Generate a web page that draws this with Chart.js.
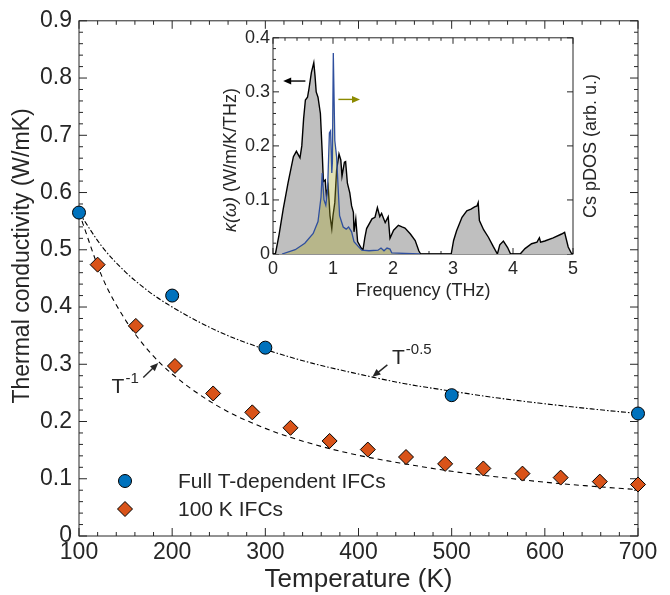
<!DOCTYPE html>
<html>
<head>
<meta charset="utf-8">
<script src="https://cdn.jsdelivr.net/npm/chart.js@4.4.1/dist/chart.umd.min.js"></script>
<style>
  html, body { margin: 0; padding: 0; background: #fff; }
  #main { position: absolute; left: 0; top: 0; width: 670px; height: 595px; }
  #inset { position: absolute; left: 215px; top: 24px; width: 395px; height: 288px; }
</style>
</head>
<body>
<div id="main"><canvas id="chart-main"></canvas></div>
<div id="inset"><canvas id="chart-inset"></canvas></div>
<script>
// main panel: thermal conductivity vs temperature
const fullT = [100, 200, 300, 500, 700];
const fullKappa = [0.565, 0.42, 0.329, 0.246, 0.214];

const ifcT = [120, 161, 203, 244, 286, 327, 369, 410, 451, 493, 534, 576, 617, 659, 700];
const ifcKappa = [0.474, 0.367, 0.297, 0.249, 0.216, 0.189, 0.166, 0.151, 0.138, 0.126, 0.118, 0.109, 0.102, 0.095, 0.09];

// guide curves
const fitT = [100, 125, 150, 175, 200, 250, 300, 350, 400, 450, 500, 550, 600, 650, 700];
const fitHalf = [0.565, 0.505, 0.461, 0.427, 0.4, 0.357, 0.326, 0.302, 0.283, 0.266, 0.253, 0.241, 0.231, 0.222, 0.214];
const fitOne = [0.565, 0.452, 0.377, 0.323, 0.283, 0.226, 0.188, 0.161, 0.141, 0.126, 0.113, 0.103, 0.094, 0.087, 0.081];

const xTicks = [100, 200, 300, 400, 500, 600, 700];
const yTicks = [0, 0.1, 0.2, 0.3, 0.4, 0.5, 0.6, 0.7, 0.8, 0.9];
const yTickLabels = ['0', '0.1', '0.2', '0.3', '0.4', '0.5', '0.6', '0.7', '0.8', '0.9'];

// inset: spectral kappa and Cs pDOS
const kappaFreq = [0, 0.04, 0.1, 0.17, 0.25, 0.34, 0.39, 0.45, 0.48, 0.51, 0.54, 0.575, 0.6, 0.64, 0.68, 0.7, 0.72, 0.75, 0.79, 0.82,
    0.84, 0.87, 0.89, 0.92, 0.95, 0.98, 1.0, 1.03, 1.06, 1.1, 1.13, 1.15, 1.19, 1.21, 1.24, 1.28, 1.31, 1.34, 1.35, 1.38,
    1.41, 1.47, 1.5, 1.53, 1.56, 1.65, 1.7, 1.74, 1.78, 1.81, 1.87, 1.92, 1.95, 2.01, 2.09, 2.15, 2.2, 2.29, 2.37, 2.43,
    2.46, 2.97, 3.01, 3.06, 3.15, 3.23, 3.3, 3.36, 3.4, 3.42, 3.44, 3.51, 3.59, 3.67, 3.74, 3.78, 3.84, 3.91, 3.96, 4.12,
    4.2, 4.31, 4.4, 4.44, 4.46, 4.53, 4.67, 4.81, 4.86, 4.92, 4.98, 5];
const kappaVal = [0, 0, 0.035, 0.083, 0.131, 0.18, 0.19, 0.178, 0.2, 0.25, 0.285, 0.29, 0.306, 0.336, 0.354, 0.33, 0.3, 0.29, 0.26, 0.188,
    0.134, 0.137, 0.108, 0.125, 0.071, 0.047, 0.071, 0.095, 0.155, 0.185, 0.174, 0.144, 0.17, 0.171, 0.131, 0.113, 0.089, 0.077, 0.041, 0.065,
    0.023, 0.011, 0.008, 0.03, 0.047, 0.065, 0.068, 0.086, 0.069, 0.075, 0.058, 0.069, 0.029, 0.044, 0.053, 0.05, 0.048, 0.037, 0.025, 0.006,
    0, 0, 0.025, 0.043, 0.068, 0.08, 0.083, 0.087, 0.089, 0.095, 0.062, 0.045, 0.031, 0.014, 0, 0.017, 0.024, 0.012, 0, 0,
    0.01, 0.019, 0.022, 0.03, 0.022, 0.024, 0.03, 0.037, 0.04, 0.013, 0, 0];

const pdosFreq = [0.15, 0.37, 0.53, 0.67, 0.75, 0.8, 0.82, 0.85, 0.88, 0.91, 0.94, 0.96, 0.98, 0.99, 1.005, 1.03, 1.06, 1.09, 1.11, 1.17,
    1.22, 1.26, 1.31, 1.35, 1.42, 1.48, 1.6, 1.75, 1.8, 1.85, 1.9, 1.95, 1.98, 2.2, 2.45];
const pdosVal = [0, 0.008, 0.02, 0.038, 0.06, 0.105, 0.15, 0.1, 0.09, 0.12, 0.224, 0.228, 0.15, 0.17, 0.372, 0.21, 0.18, 0.113, 0.071, 0.05,
    0.046, 0.05, 0.041, 0.023, 0.014, 0.007, 0.006, 0.007, 0.011, 0.006, 0.011, 0.009, 0.002, 0.001, 0];

const fTicks = [0, 1, 2, 3, 4, 5];
const kTicks = [0, 0.1, 0.2, 0.3, 0.4];
const kTickLabels = ['0', '0.1', '0.2', '0.3', '0.4'];

const ink = '#262626';
const font = '"Liberation Sans", Arial, Helvetica, sans-serif';
const blue = '#0072BD';
const orange = '#D95319';

Chart.defaults.font.family = font;
Chart.defaults.color = ink;
Chart.defaults.animation = false;

const pts = (xs, ys) => xs.map((x, i) => ({ x, y: ys[i] }));
const fixTicks = (vals) => (s) => { s.ticks = vals.map((v) => ({ value: v })); };

function steps(min, max, step) {
    const out = [];
    const n = Math.round((max - min) / step);
    for (let i = 0; i <= n; i++) out.push(min + i * step);
    return out;
}

// box with inward ticks on all four sides
const frame = {
    id: 'frame',
    beforeDatasetsDraw(chart, args, o) {
        const { ctx, chartArea: a } = chart;
        const xs = chart.scales.x;
        const ys = chart.scales.y;
        ctx.save();
        ctx.strokeStyle = ink;
        ctx.lineWidth = 1;
        ctx.strokeRect(a.left, a.top, a.right - a.left, a.bottom - a.top);
        ctx.beginPath();
        steps(xs.min, xs.max, o.xMinor).forEach((v, i) => {
            const len = i % 5 === 0 ? o.major : o.minor;
            const p = xs.getPixelForValue(v);
            ctx.moveTo(p, a.bottom); ctx.lineTo(p, a.bottom - len);
            ctx.moveTo(p, a.top); ctx.lineTo(p, a.top + len);
        });
        steps(ys.min, ys.max, o.yMinor).forEach((v, i) => {
            const major = i % 5 === 0;
            const len = major ? o.major : o.minor;
            const p = ys.getPixelForValue(v);
            ctx.moveTo(a.left, p); ctx.lineTo(a.left + len, p);
            if (major || o.rightMinor) { ctx.moveTo(a.right, p); ctx.lineTo(a.right - len, p); }
        });
        ctx.stroke();
        ctx.restore();
    },
};

function arrow(ctx, x1, y1, x2, y2, color) {
    const ang = Math.atan2(y2 - y1, x2 - x1);
    const hl = 8, hw = 3.5;
    ctx.save();
    ctx.strokeStyle = color;
    ctx.fillStyle = color;
    ctx.lineWidth = 1.4;
    ctx.beginPath();
    ctx.moveTo(x1, y1);
    ctx.lineTo(x2 - Math.cos(ang) * hl * 0.8, y2 - Math.sin(ang) * hl * 0.8);
    ctx.stroke();
    ctx.beginPath();
    ctx.moveTo(x2, y2);
    ctx.lineTo(x2 - hl * Math.cos(ang) + hw * Math.sin(ang), y2 - hl * Math.sin(ang) - hw * Math.cos(ang));
    ctx.lineTo(x2 - hl * Math.cos(ang) - hw * Math.sin(ang), y2 - hl * Math.sin(ang) + hw * Math.cos(ang));
    ctx.closePath();
    ctx.fill();
    ctx.restore();
}

function powerLabel(ctx, x, y, base, sup) {
    ctx.save();
    ctx.fillStyle = ink;
    ctx.textBaseline = 'alphabetic';
    ctx.font = '21px ' + font;
    ctx.fillText(base, x, y);
    const w = ctx.measureText(base).width;
    ctx.font = '15px ' + font;
    ctx.fillText(sup, x + w + 1, y - 10);
    ctx.restore();
}

// rotated text made of pieces in different fonts, centred on (cx, cy)
function sideText(ctx, cx, cy, parts) {
    ctx.save();
    ctx.fillStyle = ink;
    ctx.textBaseline = 'middle';
    ctx.translate(cx, cy);
    ctx.rotate(-Math.PI / 2);
    let total = 0;
    parts.forEach((p) => { ctx.font = p.font; total += ctx.measureText(p.text).width; });
    let x = -total / 2;
    parts.forEach((p) => {
        ctx.font = p.font;
        ctx.fillText(p.text, x, 0);
        x += ctx.measureText(p.text).width;
    });
    ctx.restore();
}

const notes = {
    id: 'notes',
    afterDatasetsDraw(chart) {
        const { ctx } = chart;
        const xs = chart.scales.x;
        const ys = chart.scales.y;
        const X = (v) => xs.getPixelForValue(v);
        const Y = (v) => ys.getPixelForValue(v);

        sideText(ctx, 23, 256, [{ text: 'Thermal conductivity (W/mK)', font: '23px ' + font }]);

        powerLabel(ctx, X(436), Y(0.3), 'T', '-0.5');
        arrow(ctx, X(431), Y(0.299), X(415), Y(0.278), ink);
        powerLabel(ctx, X(135), Y(0.25), 'T', '-1');
        arrow(ctx, X(169), Y(0.277), X(185), Y(0.302), ink);

        // legend
        const items = [
            { style: 'circle', r: 6.5, color: blue, text: 'Full T-dependent IFCs', y: 481 },
            { style: 'rectRot', r: 7.5, color: orange, text: '100 K IFCs', y: 509 },
        ];
        ctx.save();
        ctx.font = '21px ' + font;
        ctx.textBaseline = 'middle';
        items.forEach((it) => {
            ctx.fillStyle = it.color;
            ctx.strokeStyle = '#000';
            ctx.lineWidth = 1;
            Chart.helpers.drawPoint(ctx, { pointStyle: it.style, radius: it.r, rotation: 0, borderWidth: 1 }, 125, it.y);
            ctx.fillStyle = ink;
            ctx.fillText(it.text, 178, it.y + 1);
        });
        ctx.restore();
    },
};

new Chart(document.getElementById('chart-main'), {
    type: 'scatter',
    data: {
        datasets: [
            {
                label: 'Full T-dependent IFCs',
                data: pts(fullT, fullKappa),
                pointStyle: 'circle',
                pointRadius: 6.5,
                backgroundColor: blue,
                borderColor: '#000',
                borderWidth: 1,
                clip: false,
                order: 1,
            },
            {
                label: '100 K IFCs',
                data: pts(ifcT, ifcKappa),
                pointStyle: 'rectRot',
                pointRadius: 7.5,
                backgroundColor: orange,
                borderColor: '#000',
                borderWidth: 1,
                clip: false,
                order: 1,
            },
            {
                label: 'T^-0.5',
                data: pts(fitT, fitHalf),
                showLine: true,
                pointRadius: 0,
                borderColor: '#000',
                borderWidth: 1.1,
                borderDash: [5, 2, 1.5, 2],
                cubicInterpolationMode: 'monotone',
                order: 2,
            },
            {
                label: 'T^-1',
                data: pts(fitT, fitOne),
                showLine: true,
                pointRadius: 0,
                borderColor: '#000',
                borderWidth: 1.1,
                borderDash: [5, 4],
                cubicInterpolationMode: 'monotone',
                order: 2,
            },
        ],
    },
    options: {
        responsive: true,
        maintainAspectRatio: false,
        layout: { padding: { top: 16, right: 32, left: 0, bottom: 0 } },
        events: [],
        scales: {
            x: {
                type: 'linear',
                min: 100,
                max: 700,
                afterBuildTicks: fixTicks(xTicks),
                afterFit: (s) => { s.height = 59; },
                grid: { display: false, drawTicks: false },
                border: { display: false },
                ticks: { font: { size: 23 }, padding: 3, maxRotation: 0, color: ink },
                title: { display: true, text: 'Temperature (K)', font: { size: 26 }, padding: { top: 0, bottom: 0 }, color: ink },
            },
            y: {
                min: 0,
                max: 0.9,
                afterBuildTicks: fixTicks(yTicks),
                afterFit: (s) => { s.width = 79; },
                grid: { display: false, drawTicks: false },
                border: { display: false },
                ticks: { font: { size: 23 }, padding: 7, color: ink, callback: (v, i) => yTickLabels[i] },
                title: { display: false },
            },
        },
        plugins: {
            legend: { display: false },
            tooltip: { enabled: false },
            frame: { xMinor: 20, yMinor: 0.02, major: 8, minor: 4, rightMinor: true },
        },
    },
    plugins: [frame, notes],
});

const insetNotes = {
    id: 'insetNotes',
    afterDatasetsDraw(chart) {
        const { ctx, chartArea: a } = chart;
        const xs = chart.scales.x;
        const ys = chart.scales.y;
        arrow(ctx, xs.getPixelForValue(0.54), ys.getPixelForValue(0.32), xs.getPixelForValue(0.17), ys.getPixelForValue(0.32), '#000');
        arrow(ctx, xs.getPixelForValue(1.09), ys.getPixelForValue(0.286), xs.getPixelForValue(1.45), ys.getPixelForValue(0.286), '#8c8a00');
        sideText(ctx, 16, 136, [
            { text: 'κ(ω)', font: 'italic 18px ' + font },
            { text: ' (W/m/K/THz)', font: '18px ' + font },
        ]);
        sideText(ctx, a.right + 18, (a.top + a.bottom) / 2, [{ text: 'Cs pDOS (arb. u.)', font: '18px ' + font }]);
    },
};

new Chart(document.getElementById('chart-inset'), {
    type: 'line',
    data: {
        datasets: [
            {
                label: 'Cs pDOS',
                data: pts(pdosFreq, pdosVal),
                borderColor: '#2f4f9e',
                borderWidth: 1.3,
                backgroundColor: 'rgba(168, 166, 40, 0.35)',
                fill: 'origin',
                pointRadius: 0,
                tension: 0,
                order: 1,
            },
            {
                label: 'kappa(omega)',
                data: pts(kappaFreq, kappaVal),
                borderColor: '#000',
                borderWidth: 1.4,
                backgroundColor: '#bfbfbf',
                fill: 'origin',
                pointRadius: 0,
                tension: 0,
                order: 2,
            },
        ],
    },
    options: {
        responsive: true,
        maintainAspectRatio: false,
        layout: { padding: { top: 9, right: 37, left: 0, bottom: 0 } },
        events: [],
        scales: {
            x: {
                type: 'linear',
                min: 0,
                max: 5,
                afterBuildTicks: fixTicks(fTicks),
                afterFit: (s) => { s.height = 58; },
                grid: { display: false, drawTicks: false },
                border: { display: false },
                ticks: { font: { size: 18 }, padding: 4, maxRotation: 0, color: ink },
                title: { display: true, text: 'Frequency (THz)', font: { size: 18 }, padding: { top: 0, bottom: 10 }, color: ink },
            },
            y: {
                min: 0,
                max: 0.4,
                afterBuildTicks: fixTicks(kTicks),
                afterFit: (s) => { s.width = 58; },
                grid: { display: false, drawTicks: false },
                border: { display: false },
                ticks: { font: { size: 18 }, padding: 3, color: ink, callback: (v, i) => kTickLabels[i] },
                title: { display: false },
            },
        },
        plugins: {
            legend: { display: false },
            tooltip: { enabled: false },
            filler: { propagate: false },
            frame: { xMinor: 0.2, yMinor: 0.02, major: 6, minor: 3, rightMinor: false },
        },
    },
    plugins: [frame, insetNotes],
});
</script>
</body>
</html>
